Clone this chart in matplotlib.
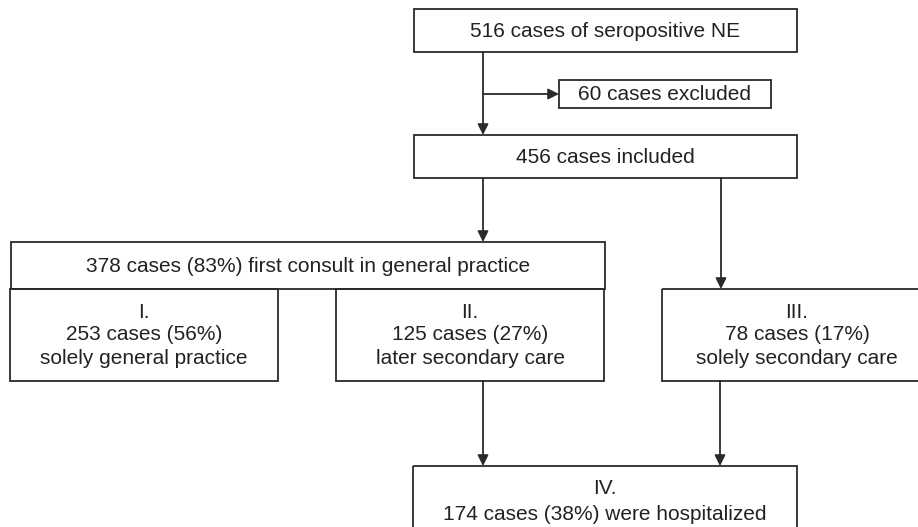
import matplotlib.pyplot as plt
from matplotlib.patches import Rectangle

plt.rcParams['font.family'] = ['Liberation Sans', 'DejaVu Sans']

# Zahlen aus dem Flussdiagramm
total = 516
excluded = 60
included = 456
gp_first = 378
groups = ['I.', 'II.', 'III.', 'IV.']
group_n = [253, 125, 78, 174]
group_pct = [56, 27, 17, 38]
gp_first_pct = 83
group_desc = ['solely general practice', 'later secondary care',
              'solely secondary care', 'were hospitalized']

# Boxen: (x0, y0, x1, y1) in Pixeln, Text, Zeilenabstand
boxes = [
    ((414, 9, 797, 52), ['%d cases of seropositive NE' % total], 0),
    ((559, 80, 771, 108), ['%d cases excluded' % excluded], 0),
    ((414, 135, 797, 178), ['%d cases included' % included], 0),
    ((11, 242, 605, 289), ['%d cases (%d%%) first consult in general practice' % (gp_first, gp_first_pct)], 0),
    ((10, 289, 278, 381), [groups[0], '%d cases (%d%%)' % (group_n[0], group_pct[0]), group_desc[0]], 23),
    ((336, 289, 604, 381), [groups[1], '%d cases (%d%%)' % (group_n[1], group_pct[1]), group_desc[1]], 23),
    ((662, 289, 932, 381), [groups[2], '%d cases (%d%%)' % (group_n[2], group_pct[2]), group_desc[2]], 23),
    ((413, 466, 797, 560), [groups[3], '%d cases (%d%%) %s' % (group_n[3], group_pct[3], group_desc[3])], 25),
]

# Pfeile: Start -> Ende
arrows = [
    ((483, 52), (483, 135)),
    ((483, 94), (559, 94)),
    ((483, 178), (483, 242)),
    ((721, 178), (721, 289)),
    ((483, 381), (483, 466)),
    ((720, 381), (720, 466)),
]

col = '#2a2a2a'
fig = plt.figure(figsize=(9.18, 5.27), dpi=100)
ax = fig.add_axes([0, 0, 1, 1])
ax.set_xlim(0, 918)
ax.set_ylim(527, 0)
ax.axis('off')

for (x0, y0, x1, y1), lines, step in boxes:
    ax.add_patch(Rectangle((x0, y0), x1 - x0, y1 - y0, fill=False,
                           edgecolor=col, linewidth=1.3))
    cx = (x0 + x1) / 2
    if len(lines) == 1:
        ax.text(cx, (y0 + y1) / 2 + 1, lines[0], ha='center', va='center',
                fontsize=15, color='#222222')
    else:
        ytop = y0 + 23
        for i, t in enumerate(lines):
            ax.text(cx, ytop + i * step, t, ha='center', va='center',
                    fontsize=15, color='#222222')

for start, end in arrows:
    ax.annotate('', xy=end, xytext=start,
                arrowprops=dict(arrowstyle='-|>', color=col, lw=1.3,
                                mutation_scale=16, shrinkA=0, shrinkB=0))

plt.savefig('out.png', dpi=100)
